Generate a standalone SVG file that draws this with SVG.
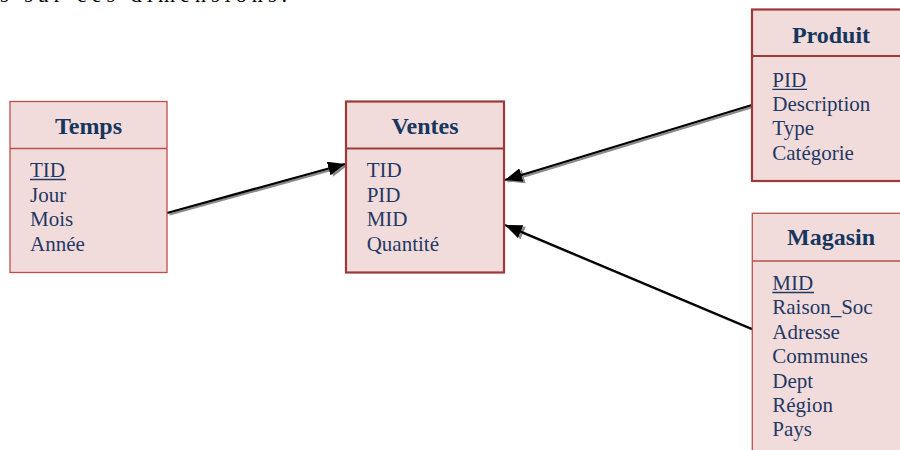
<svg xmlns="http://www.w3.org/2000/svg" width="900" height="450" viewBox="0 0 900 450">
  <style>
    .box { fill: #F2DCDB; }
    .thin { stroke: #B8514E; stroke-width: 1.3; }
    .thick { stroke: #9B3A38; stroke-width: 2.2; }
    .title { font-family: "Liberation Serif", "Times New Roman", serif; font-weight: bold; font-size: 24px; fill: #17365D; text-anchor: middle; }
    .attr { font-family: "Liberation Serif", "Times New Roman", serif; font-size: 21px; fill: #1F3864; }
    .key { stroke: #1F3864; stroke-width: 1.3; }
    .link { stroke: #000; stroke-width: 2.2; fill: none; }
    .shadow { stroke: #8A8A8A; stroke-width: 2.2; fill: none; }
    .para { font-family: "Liberation Serif", "Times New Roman", serif; font-size: 22px; fill: #000; }
  </style>
  <defs>
    <marker id="arrow" markerUnits="userSpaceOnUse" markerWidth="17" markerHeight="14" refX="17" refY="7" orient="auto">
      <path d="M0,0 L17,7 L0,14 z" fill="#000"/>
    </marker>
    <marker id="arrowShadow" markerUnits="userSpaceOnUse" markerWidth="17" markerHeight="14" refX="17" refY="7" orient="auto">
      <path d="M0,0 L17,7 L0,14 z" fill="#8A8A8A"/>
    </marker>
  </defs>

  <rect width="900" height="450" fill="#fff"/>

  <!-- end of the paragraph above, clipped by the top edge -->
  <text class="para" x="0" y="1.5" textLength="287" lengthAdjust="spacing">s sur ces dimensions.</text>

  <!-- connectors -->
  <g id="connectors">
    <g transform="translate(2.5,1.5)">
      <line class="shadow" x1="167" y1="213" x2="345" y2="164" marker-end="url(#arrowShadow)"/>
      <line class="shadow" x1="752" y1="105" x2="505" y2="180" marker-end="url(#arrowShadow)"/>
      <line class="shadow" x1="752" y1="329" x2="505" y2="225" marker-end="url(#arrowShadow)"/>
    </g>
    <line class="link" x1="167" y1="213" x2="345" y2="164" marker-end="url(#arrow)"/>
    <line class="link" x1="752" y1="105" x2="505" y2="180" marker-end="url(#arrow)"/>
    <line class="link" x1="752" y1="329" x2="505" y2="225" marker-end="url(#arrow)"/>
  </g>

  <!-- Temps -->
  <g id="temps">
    <rect class="box thin" x="10" y="101.5" width="157" height="171"/>
    <line class="thin" x1="10" y1="148.5" x2="167" y2="148.5"/>
    <text class="title" x="88.5" y="134">Temps</text>
    <text class="attr" x="30" y="177">TID</text>
    <line class="key" x1="30" y1="179.5" x2="66" y2="179.5"/>
    <text class="attr" x="30" y="201.7">Jour</text>
    <text class="attr" x="30" y="226.3">Mois</text>
    <text class="attr" x="30" y="251">Année</text>
  </g>

  <!-- Ventes -->
  <g id="ventes">
    <rect class="box thick" x="346" y="101.5" width="158" height="171"/>
    <line class="thick" x1="346" y1="148.5" x2="504" y2="148.5"/>
    <text class="title" x="425" y="134">Ventes</text>
    <text class="attr" x="366.7" y="177">TID</text>
    <text class="attr" x="366.7" y="201.7">PID</text>
    <text class="attr" x="366.7" y="226.3">MID</text>
    <text class="attr" x="366.7" y="251">Quantité</text>
  </g>

  <!-- Produit -->
  <g id="produit">
    <rect class="box thick" x="752" y="9.5" width="158" height="171.5"/>
    <line class="thick" x1="752" y1="56" x2="910" y2="56"/>
    <text class="title" x="831" y="42.5">Produit</text>
    <text class="attr" x="772.3" y="86.7">PID</text>
    <line class="key" x1="772.3" y1="89.3" x2="807" y2="89.3"/>
    <text class="attr" x="772.3" y="110.5">Description</text>
    <text class="attr" x="772.3" y="135">Type</text>
    <text class="attr" x="772.3" y="159.5">Catégorie</text>
  </g>

  <!-- Magasin -->
  <g id="magasin">
    <rect class="box thin" x="752.3" y="213.3" width="158" height="250"/>
    <line class="thin" x1="752.3" y1="261" x2="910" y2="261"/>
    <text class="title" x="831" y="245">Magasin</text>
    <text class="attr" x="772.3" y="290">MID</text>
    <line class="key" x1="772.3" y1="292.5" x2="814" y2="292.5"/>
    <text class="attr" x="772.3" y="314.3">Raison_Soc</text>
    <text class="attr" x="772.3" y="338.5">Adresse</text>
    <text class="attr" x="772.3" y="363.3">Communes</text>
    <text class="attr" x="772.3" y="387.7">Dept</text>
    <text class="attr" x="772.3" y="411.7">Région</text>
    <text class="attr" x="772.3" y="436">Pays</text>
  </g>
</svg>
